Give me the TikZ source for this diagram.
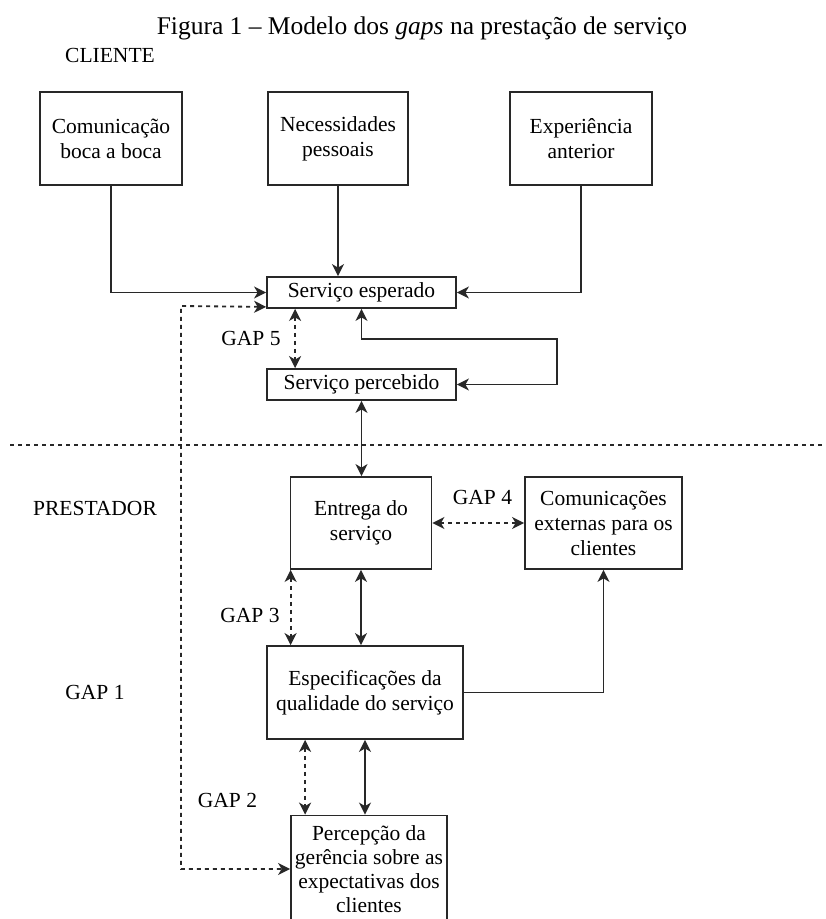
\documentclass[tikz,border=0pt]{standalone}
\usepackage{fontspec}
\setmainfont{Liberation Serif}
\usetikzlibrary{arrows.meta,calc}
\definecolor{ln}{RGB}{40,40,40}
\tikzset{
  box/.style={draw=ln,line width=1.8pt,inner sep=0pt,align=center,font=\fontsize{21.5}{25}\selectfont},
  lbl/.style={inner sep=0pt,font=\fontsize{21.5}{25}\selectfont},
  tipA/.tip={Stealth[length=12pt,width=12pt,inset=3.5pt]},
  solid2/.style={draw=ln,line width=1.8pt,tipA-tipA},
  dash2/.style={draw=ln,line width=1.8pt,dash pattern=on 4pt off 4pt,tipA-tipA},
  solid1/.style={draw=ln,line width=1.8pt,-tipA}
}
\begin{document}
\begin{tikzpicture}[x=1pt,y=-1pt]
\clip (0,0) rectangle (826,919);
\fill[white] (0,0) rectangle (826,919);
% texts
\node[lbl,font=\fontsize{25.5}{30}\selectfont] (title) at (422,28) {Figura 1 -- Modelo dos \textit{gaps} na prestação de serviço};
\node[lbl] (cli) at (110,55) {CLIENTE};
\node[lbl] (prest) at (95,508) {PRESTADOR};
\node[lbl] (g1) at (95,692) {GAP 1};
\node[lbl] (g2) at (227.5,800) {GAP 2};
\node[lbl] (g3) at (250,615) {GAP 3};
\node[lbl] (g4) at (482.5,497) {GAP 4};
\node[lbl] (g5) at (251,338) {GAP 5};
% boxes
\node[box,minimum width=142,minimum height=93] (b1) at (111,138.5) {Comunicação\\boca a boca};
\node[box,minimum width=140,minimum height=93] (b2) at (338,138.5) {Necessidades\\pessoais};
\node[box,minimum width=142,minimum height=93] (b3) at (581,138.5) {Experiência\\anterior};
\node[box,minimum width=189,minimum height=31] (esp) at (361.5,292.5) {Serviço esperado};
\node[box,minimum width=189,minimum height=31] (perc) at (361.5,384.5) {Serviço percebido};
\node[box,minimum width=141,minimum height=92] (ent) at (361,523) {Entrega do\\serviço};
\node[box,minimum width=157,minimum height=92] (ext) at (603.5,523) {Comunicações\\externas para os\\clientes};
\node[box,minimum width=196,minimum height=93] (spec) at (365,692.5) {Especificações da\\qualidade do serviço};
\node[box,minimum width=156,minimum height=107,font=\fontsize{21.5}{24}\selectfont] (ger) at (369,869) {Percepção da\\gerência sobre as\\expectativas dos\\clientes};
% separator
\coordinate (hl) at (10,445);
\coordinate (hr) at (826,445);
\draw[draw=ln,line width=1.6pt,dash pattern=on 4pt off 4pt] (hl) -- (hr);
% connectors
\draw[solid1] (b1.south) |- (esp.west);
\draw[solid1] (b2.south) -- (b2.south |- esp.north);
\draw[solid1] (b3.south) |- (esp.east);
\coordinate (d1) at (181,306);
\coordinate (d2) at (181,869);
\draw[dash2] ([yshift=2pt]esp.south west) -- (d1) -- (d2) -- (ger.west);
\draw[dash2] ([xshift=29pt]esp.south west) -- ([xshift=29pt]perc.north west);
\coordinate (fb) at (557,339);
\draw[solid2] (esp.south) |- (fb) |- (perc.east);
\draw[solid2] (perc.south) -- (perc.south |- ent.north);
\draw[dash2] (ent.east) -- (ext.west);
\draw[dash2] ([xshift=1pt]ent.south west) -- ([xshift=1pt]ent.south west |- spec.north);
\draw[solid2] (ent.south) -- (ent.south |- spec.north);
\draw[solid1] (spec.east) -| (ext.south);
\draw[dash2] ([xshift=39pt]spec.south west) -- ([xshift=39pt]spec.south west |- ger.north);
\draw[solid2] (spec.south) -- (spec.south |- ger.north);
\end{tikzpicture}
\end{document}
